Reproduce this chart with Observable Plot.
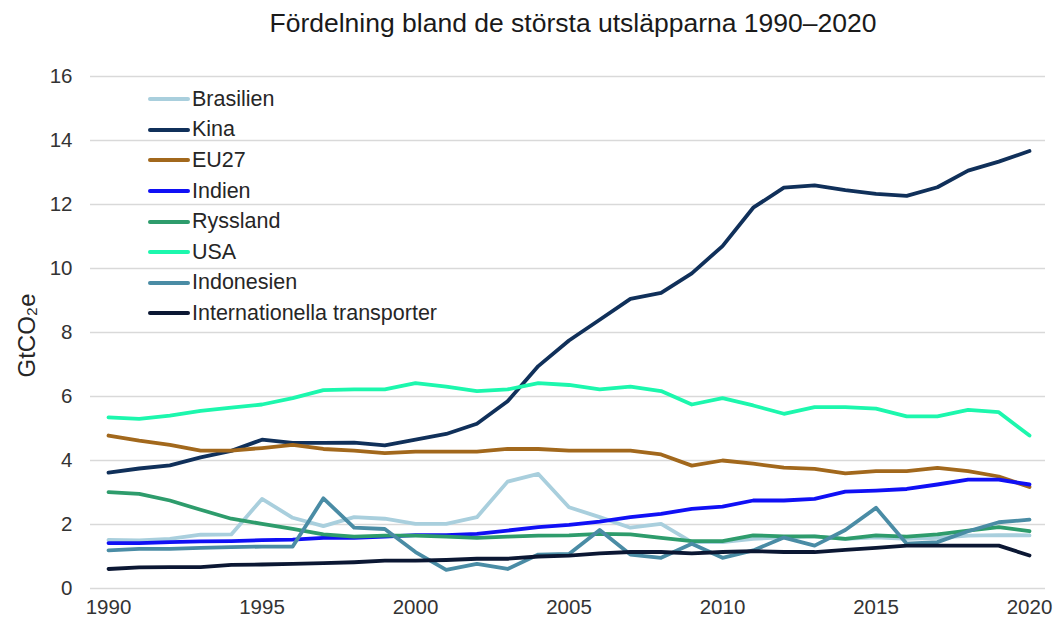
<!DOCTYPE html>
<html>
<head>
<meta charset="utf-8">
<script src="https://cdn.jsdelivr.net/npm/d3@7"></script>
<script src="https://cdn.jsdelivr.net/npm/@observablehq/plot@0.6"></script>
<style>
  body { margin: 0; background: #fff; font-family: "Liberation Sans", Arial, sans-serif; }
  #wrap { position: relative; width: 1054px; height: 627px; }
  #title { height: 45px; line-height: 46px; font-size: 26.5px; color: #1a1a1a; text-align: center; padding-left: 92px; box-sizing: border-box; }
  #legend { position: absolute; left: 148px; top: 84px; }
  .row { height: 30.6px; display: flex; align-items: center; font-size: 21.5px; color: #262626; }
  .sw { width: 42px; height: 4px; border-radius: 2px; margin-right: 2px; }
</style>
</head>
<body>
<div id="wrap">
  <div id="title">Fördelning bland de största utsläpparna 1990–2020</div>
  <div id="chart"></div>
  <div id="legend"></div>
</div>
<script>
const years = d3.range(1990, 2021);
const seriesNames = ["Brasilien", "Kina", "EU27", "Indien", "Ryssland", "USA", "Indonesien", "Internationella transporter"];
const seriesColors = ["#a9cfdd", "#10305a", "#a2681c", "#1010f5", "#2e9c6c", "#1cf7ad", "#4a8ca5", "#0b1733"];
const yTicks = [0, 2, 4, 6, 8, 10, 12, 14, 16];
const xTicks = [1990, 1995, 2000, 2005, 2010, 2015, 2020];

const brasilien = [1.52, 1.50, 1.55, 1.68, 1.69, 2.80, 2.21, 1.95, 2.23, 2.18, 2.02, 2.02, 2.23, 3.34, 3.58, 2.54, 2.23, 1.90, 2.02, 1.45, 1.45, 1.55, 1.60, 1.63, 1.55, 1.60, 1.55, 1.58, 1.65, 1.67, 1.66];
const kina = [3.62, 3.75, 3.85, 4.10, 4.30, 4.65, 4.55, 4.55, 4.56, 4.47, 4.65, 4.83, 5.15, 5.85, 6.95, 7.75, 8.40, 9.05, 9.24, 9.85, 10.70, 11.90, 12.53, 12.60, 12.45, 12.33, 12.27, 12.54, 13.06, 13.34, 13.67];
const eu27 = [4.78, 4.62, 4.49, 4.31, 4.31, 4.39, 4.49, 4.36, 4.31, 4.23, 4.28, 4.28, 4.28, 4.36, 4.36, 4.31, 4.31, 4.31, 4.19, 3.84, 4.00, 3.90, 3.78, 3.74, 3.60, 3.67, 3.67, 3.77, 3.67, 3.50, 3.17];
const indien = [1.42, 1.42, 1.45, 1.47, 1.48, 1.51, 1.53, 1.58, 1.58, 1.62, 1.67, 1.67, 1.71, 1.81, 1.92, 1.99, 2.09, 2.23, 2.33, 2.49, 2.56, 2.75, 2.75, 2.80, 3.03, 3.06, 3.11, 3.25, 3.40, 3.40, 3.25];
const ryssland = [3.01, 2.96, 2.75, 2.46, 2.18, 2.02, 1.86, 1.69, 1.62, 1.65, 1.65, 1.62, 1.58, 1.62, 1.65, 1.66, 1.71, 1.69, 1.58, 1.48, 1.48, 1.66, 1.63, 1.63, 1.55, 1.66, 1.62, 1.69, 1.81, 1.92, 1.79];
const usa = [5.35, 5.30, 5.40, 5.55, 5.65, 5.75, 5.95, 6.20, 6.22, 6.22, 6.42, 6.31, 6.17, 6.22, 6.42, 6.36, 6.22, 6.31, 6.17, 5.75, 5.95, 5.72, 5.46, 5.67, 5.67, 5.62, 5.38, 5.38, 5.58, 5.51, 4.78];
const indonesien = [1.19, 1.24, 1.24, 1.27, 1.29, 1.31, 1.31, 2.82, 1.90, 1.86, 1.14, 0.58, 0.77, 0.61, 1.06, 1.08, 1.83, 1.06, 0.96, 1.40, 0.96, 1.19, 1.59, 1.34, 1.83, 2.52, 1.40, 1.45, 1.79, 2.07, 2.15];
const transporter = [0.61, 0.66, 0.67, 0.67, 0.74, 0.75, 0.77, 0.79, 0.82, 0.87, 0.87, 0.89, 0.93, 0.93, 1.00, 1.03, 1.10, 1.14, 1.14, 1.10, 1.14, 1.17, 1.14, 1.14, 1.21, 1.27, 1.34, 1.34, 1.34, 1.34, 1.03];

const seriesValues = [brasilien, kina, eu27, indien, ryssland, usa, indonesien, transporter];

const tables = seriesNames.map((name, i) => years.map((year, j) => ({ series: name, year, value: seriesValues[i][j] })));

const chart = Plot.plot({
  width: 1054,
  height: 582,
  marginTop: 31,
  marginBottom: 39,
  marginLeft: 108,
  marginRight: 25,
  style: { fontFamily: "'Liberation Sans', Arial, sans-serif", color: "#333", background: "#fff" },
  x: { domain: [1990, 2020], ticks: xTicks, tickFormat: d => String(d), label: null },
  y: { domain: [0, 16], ticks: yTicks, label: null },
  color: { domain: seriesNames, range: seriesColors },
  marks: [
    Plot.ruleY(yTicks, { stroke: "#d9d9d9", strokeWidth: 1.3, insetLeft: -18, insetRight: -16 }),
    Plot.axisX({ ticks: xTicks, tickSize: 0, tickPadding: 11, fontSize: 20.5, tickFormat: d => String(d), label: null }),
    Plot.axisY({ ticks: yTicks, tickSize: 0, tickPadding: 36, fontSize: 20.5, label: null }),
    Plot.text(["GtCO₂e"], { frameAnchor: "left", dx: -81, dy: 3, rotate: -90, textAnchor: "middle", fontSize: 24, fill: "#262626" }),
    ...tables.map(t => Plot.line(t, { x: "year", y: "value", stroke: "series", strokeWidth: 3.8, strokeLinejoin: "round", strokeLinecap: "round" }))
  ]
});
document.getElementById("chart").appendChild(chart);

const legend = d3.select("#legend");
seriesNames.forEach((name, i) => {
  const row = legend.append("div").attr("class", "row");
  row.append("div").attr("class", "sw").style("background", seriesColors[i]);
  row.append("span").text(name);
});
</script>
</body>
</html>
